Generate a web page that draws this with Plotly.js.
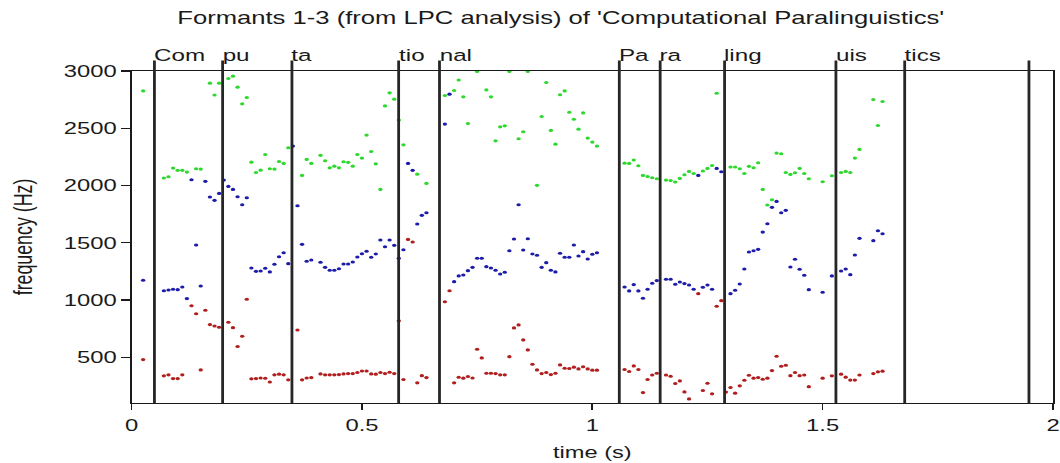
<!DOCTYPE html>
<html>
<head>
<meta charset="utf-8">
<script src="https://cdn.plot.ly/plotly-3.0.1.min.js"></script>
<style>
  html, body { margin: 0; padding: 0; overflow: hidden; background: #ffffff; }
  #chart { width: 757px; height: 463px; transform: scaleX(1.40026); transform-origin: 0 0; }
</style>
</head>
<body>
<div id="chart"></div>
<script>
// F1 (red)
const t1 = [0.025,0.07,0.08,0.09,0.10,0.11,0.13,0.14,0.15,0.16,0.17,0.18,0.19,0.21,0.22,0.23,0.24,0.25,
  0.26,0.27,0.28,0.29,0.30,0.31,0.32,0.33,0.34,0.36,0.37,0.38,0.39,0.41,0.42,0.43,0.44,0.45,0.46,0.47,0.48,0.49,
  0.50,0.51,0.52,0.53,0.54,0.55,0.56,0.57,0.58,0.59,0.60,0.61,0.62,0.63,0.64,0.68,0.69,0.70,0.71,0.72,0.73,0.74,
  0.75,0.76,0.77,0.78,0.79,0.80,0.81,0.82,0.83,0.84,0.85,0.86,0.87,0.88,0.89,0.90,0.91,0.92,0.93,0.94,0.95,0.96,
  0.97,0.98,0.99,1.00,1.01,1.07,1.08,1.09,1.10,1.11,1.12,1.13,1.14,1.16,1.17,1.18,1.19,1.20,1.21,1.23,1.24,1.25,
  1.26,1.27,1.28,1.29,1.30,1.31,1.32,1.33,1.34,1.35,1.36,1.37,1.38,1.39,1.40,1.41,1.42,1.43,1.44,1.45,1.46,1.47,
  1.50,1.52,1.54,1.55,1.56,1.57,1.58,1.61,1.62,1.63];
const f1 = [479,337,346,313,313,346,950,880,389,910,785,773,762,805,758,593,683,1006,
  311,313,319,316,284,346,352,346,302,738,302,319,322,354,346,346,346,348,354,357,357,366,
  380,380,354,352,366,357,369,357,819,305,1529,1506,276,339,322,985,1081,276,325,317,331,319,
  570,494,360,360,357,346,346,505,756,782,651,564,439,389,357,366,348,360,433,404,401,413,
  398,416,398,387,387,392,375,424,392,191,305,345,360,345,334,270,293,197,136,1055,209,273,
  180,945,994,195,235,186,250,299,343,317,322,308,317,383,509,421,430,339,366,339,345,243,
  317,337,352,326,300,300,345,357,372,378];

// F2 (blue)
const t2 = [0.025,0.07,0.08,0.09,0.10,0.11,0.12,0.13,0.14,0.15,0.16,0.17,0.18,0.19,0.20,0.21,0.22,0.23,0.24,0.25,
  0.26,0.27,0.28,0.29,0.30,0.31,0.32,0.33,0.34,0.35,0.36,0.37,0.38,0.39,0.41,0.42,0.43,0.44,0.45,0.46,0.47,0.48,0.49,
  0.50,0.51,0.52,0.53,0.54,0.55,0.56,0.57,0.58,0.59,0.60,0.61,0.62,0.63,0.64,0.68,0.69,0.70,0.71,0.72,0.73,0.74,
  0.75,0.76,0.77,0.78,0.79,0.80,0.81,0.82,0.83,0.84,0.85,0.86,0.87,0.88,0.89,0.90,0.91,0.92,0.93,0.94,0.95,0.96,
  0.97,0.98,0.99,1.00,1.01,1.07,1.08,1.09,1.10,1.11,1.12,1.13,1.14,1.16,1.17,1.18,1.19,1.20,1.21,1.22,1.23,1.24,1.25,
  1.26,1.27,1.28,1.30,1.31,1.32,1.33,1.34,1.35,1.36,1.37,1.38,1.39,1.40,1.41,1.42,1.43,1.44,1.45,1.46,1.47,
  1.50,1.52,1.54,1.55,1.56,1.57,1.58,1.61,1.62,1.63];
const f2 = [1172,1081,1087,1093,1090,1113,1012,2050,1480,1122,2036,1899,1870,1931,2047,1992,1966,1902,1832,1893,
  1279,1250,1253,1277,1245,1312,1378,1413,1317,2344,1823,1486,1338,1349,1329,1285,1259,1259,1273,1314,1314,1332,1375,
  1404,1425,1373,1402,1524,1465,1524,1477,1364,1439,2193,2132,1663,1739,1762,2536,2798,1160,1210,1218,1256,1285,
  1364,1364,1291,1279,1259,1227,1242,1430,1532,1832,1436,1535,1402,1390,1285,1326,1259,1245,1408,1373,1373,1480,
  1384,1422,1358,1399,1413,1113,1079,1134,1079,1015,1093,1146,1169,1181,1181,1137,1157,1143,1131,1093,2088,1111,1131,
  1093,2149,2120,1055,1085,1140,1271,1419,1430,1442,1593,1666,1809,1861,1762,1783,1288,1355,1268,1216,1090,
  1067,1210,1253,1271,1221,1393,1538,1518,1605,1579];

// F3 (green)
const t3 = [0.025,0.07,0.08,0.09,0.10,0.11,0.12,0.14,0.15,0.17,0.18,0.19,0.21,0.22,0.23,0.24,0.25,
  0.26,0.27,0.28,0.29,0.30,0.31,0.32,0.33,0.34,0.37,0.38,0.39,0.41,0.42,0.43,0.44,0.45,0.46,0.47,0.48,0.49,
  0.50,0.51,0.52,0.53,0.54,0.55,0.56,0.57,0.58,0.59,0.62,0.64,0.68,0.70,0.71,0.72,0.73,
  0.75,0.77,0.78,0.79,0.80,0.81,0.82,0.84,0.85,0.86,0.88,0.89,0.90,0.91,0.92,0.93,0.94,0.95,0.96,
  0.97,0.98,0.99,1.00,1.01,1.07,1.08,1.09,1.10,1.11,1.12,1.13,1.14,1.16,1.17,1.18,1.19,1.20,1.21,1.22,1.24,1.25,
  1.26,1.27,1.30,1.31,1.32,1.33,1.34,1.35,1.36,1.37,1.38,1.39,1.40,1.41,1.42,1.43,1.44,1.45,1.46,1.47,
  1.50,1.52,1.54,1.55,1.56,1.57,1.58,1.61,1.62,1.63];
const f3 = [2826,2065,2076,2152,2132,2132,2117,2146,2143,2894,2791,2894,2935,2955,2859,2713,2769,
  2204,2114,2134,2271,2146,2143,2210,2193,2329,2088,2228,2193,2263,2216,2154,2169,2154,2207,2202,2169,2271,
  2239,2440,2297,2189,1966,2695,2809,2754,2571,2355,2099,2018,2786,2830,2922,2774,2542,
  2996,2835,2774,2390,2512,2521,2996,2408,2469,2996,2001,2603,2900,2481,2361,2792,2826,2640,2579,
  2492,2634,2414,2379,2344,2195,2193,2222,2172,2088,2079,2067,2059,2047,2044,2030,2062,2094,2123,2105,2126,2149,
  2175,2806,2161,2161,2146,2105,2167,2155,2198,1966,1829,1875,2283,2277,2114,2097,2111,2149,2105,2059,
  2033,2085,2114,2123,2114,2239,2315,2751,2524,2734];

// syllable boundaries (s) and labels
const boundaries = [0.0495,0.1975,0.348,0.5796,0.6683,1.0586,1.1473,1.2871,1.5288,1.6781,1.9478];
const syllables  = ['Com','pu','ta','tio','nal','Pa','ra','ling','uis','tics',''];

const xTicks = [0, 0.5, 1, 1.5, 2];
const xTickText = ['0', '0.5', '1', '1.5', '2'];
const yTicks = [500, 1000, 1500, 2000, 2500, 3000];

const FONT = 'Liberation Sans, Arial, Helvetica, sans-serif';
const INK = '#1a1a1a';

function series(x, y, color) {
  return { type: 'scatter', mode: 'markers', x: x, y: y,
    marker: { color: color, size: 3.1, line: { width: 0 } },
    hoverinfo: 'skip', showlegend: false, cliponaxis: false };
}

const data = [
  series(t1, f1, '#b01e1e'),
  series(t2, f2, '#1c1ca8'),
  series(t3, f3, '#2ed82e')
];

const shapes = boundaries.map(b => ({
  type: 'line', xref: 'x', yref: 'paper', x0: b, x1: b, y0: 0, y1: 1.0316,
  line: { color: '#262626', width: 2 }, layer: 'above'
}));

const annotations = boundaries.map((b, i) => ({
  xref: 'x', yref: 'paper', x: b, y: 1.0496, xanchor: 'left', yanchor: 'middle',
  text: syllables[i], showarrow: false, borderpad: 0, xshift: -1,
  font: { family: FONT, size: 17.3, color: INK }
})).filter(a => a.text !== '');

const layout = {
  width: 757, height: 463,
  margin: { l: 93.8, r: 5, t: 70.5, b: 60, pad: 0 },
  paper_bgcolor: '#ffffff', plot_bgcolor: '#ffffff',
  font: { family: FONT, color: INK, size: 17 },
  title: {
    text: "Formants 1-3 (from LPC analysis) of 'Computational Paralinguistics'",
    font: { family: FONT, size: 18.3, color: INK },
    xref: 'container', x: 0.529, xanchor: 'center',
    yref: 'container', y: 0.961, yanchor: 'middle'
  },
  xaxis: {
    range: [0, 2], tickvals: xTicks, ticktext: xTickText,
    ticks: 'outside', ticklen: 6, tickwidth: 1.2, tickcolor: INK,
    ticklabeloverflow: 'allow',
    showline: true, mirror: true, linecolor: INK, linewidth: 1.3,
    showgrid: false, zeroline: false,
    tickfont: { family: FONT, size: 17, color: INK },
    title: { text: 'time (s)', font: { family: FONT, size: 16.9, color: INK }, standoff: 12 }
  },
  yaxis: {
    range: [100, 3000], tickvals: yTicks,
    ticks: 'outside', ticklen: 6, tickwidth: 1.2, tickcolor: INK,
    showline: true, mirror: true, linecolor: INK, linewidth: 1.3,
    showgrid: false, zeroline: false,
    tickfont: { family: FONT, size: 17, color: INK },
    title: { text: 'frequency (Hz)', font: { family: FONT, size: 17.8, color: INK }, standoff: 17 }
  },
  shapes: shapes,
  annotations: annotations
};

Plotly.newPlot('chart', data, layout, { staticPlot: true, displayModeBar: false });
</script>
</body>
</html>
